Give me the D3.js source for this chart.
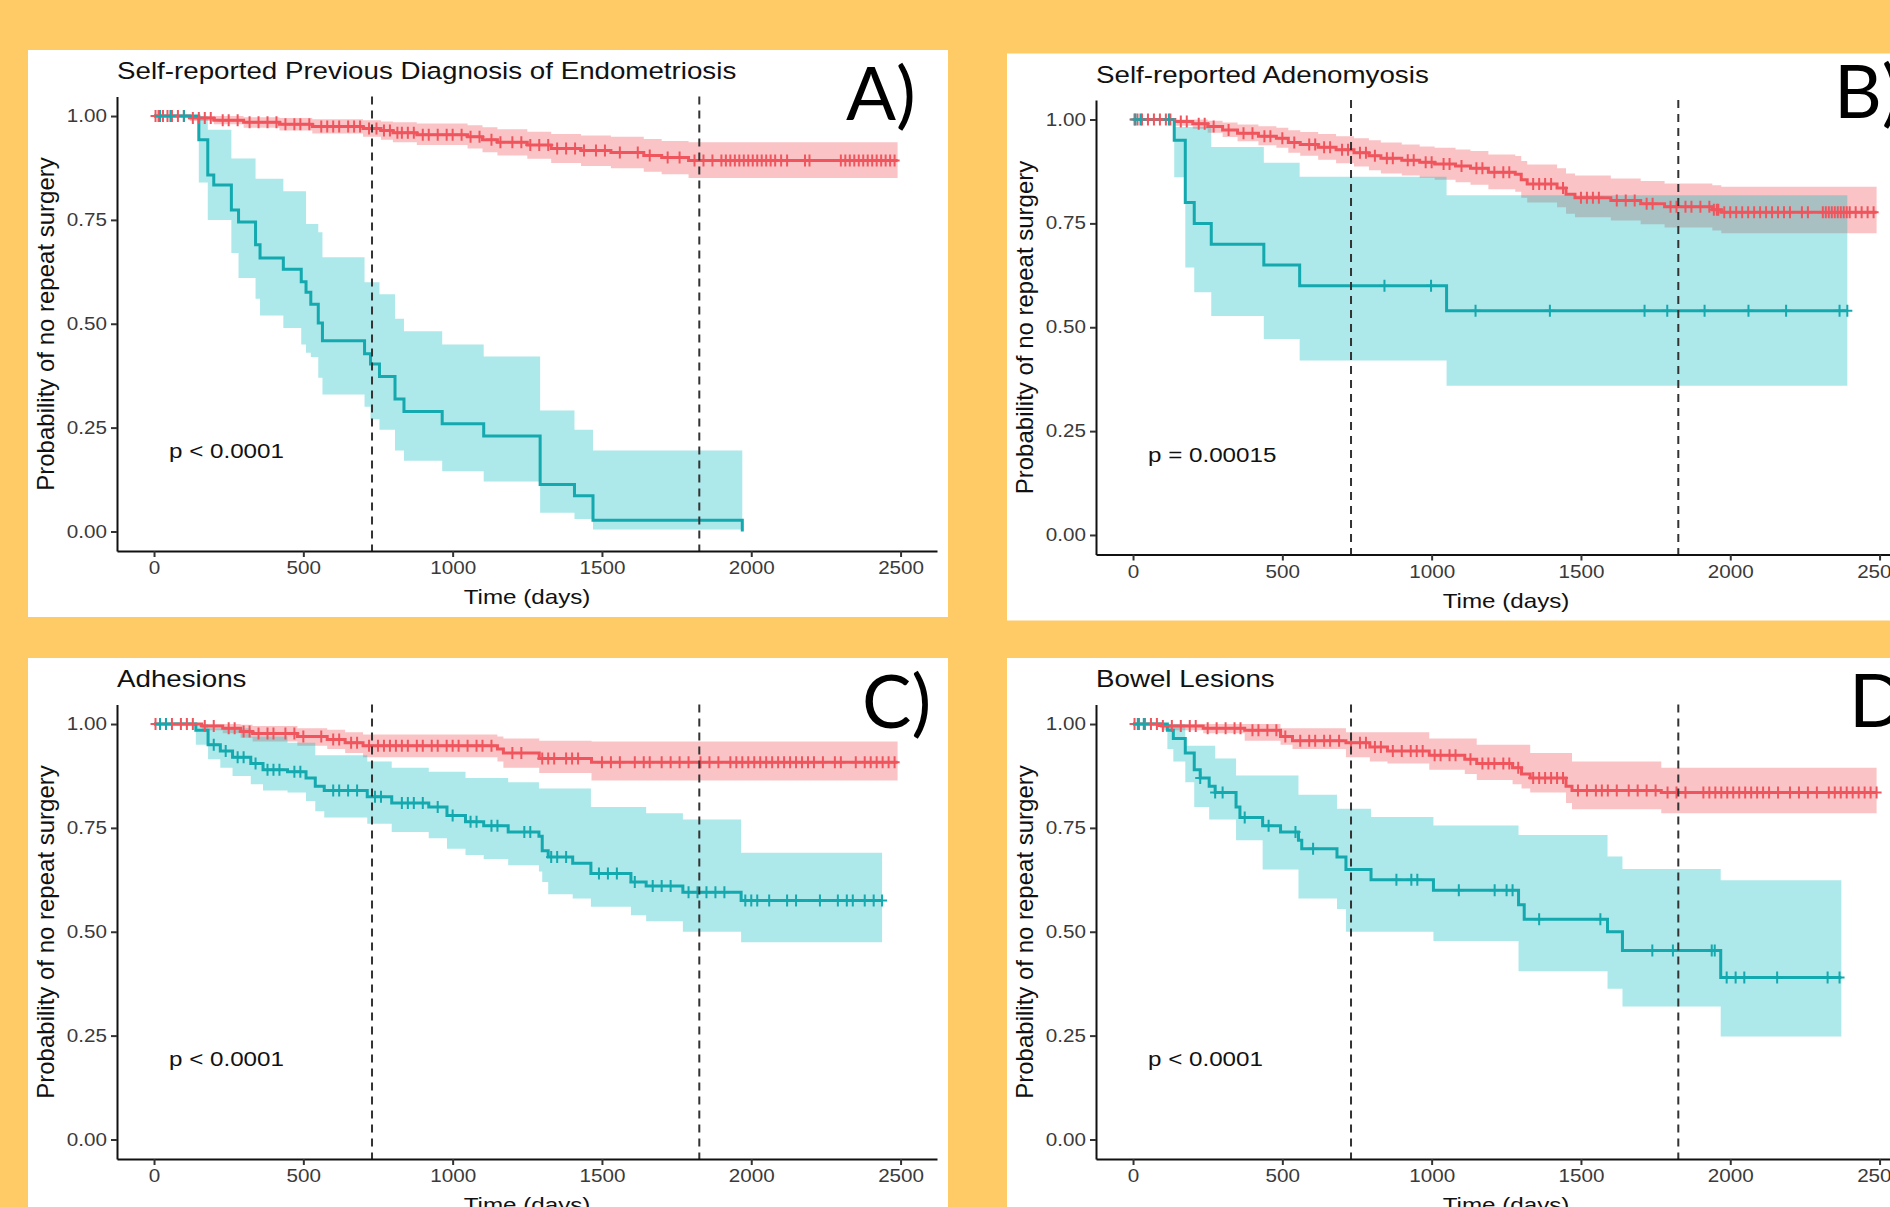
<!DOCTYPE html>
<html>
<head>
<meta charset="utf-8">
<script src="https://cdn.jsdelivr.net/npm/d3@7"></script>
<style>
  html, body { margin: 0; padding: 0; background: #fecb67; }
  svg { display: block; }
</style>
</head>
<body>
<svg id="chart" width="1890" height="1207"></svg>
<script>
// ---------- data ----------
// A) Self-reported previous diagnosis of endometriosis
var endoNoTime  = [0, 120, 200, 300, 420, 530, 700, 760, 800, 880, 1050, 1100, 1150, 1250, 1330, 1430, 1530, 1640, 1700, 1790];
var endoNoSurv  = [1, 0.995, 0.99, 0.985, 0.98, 0.975, 0.97, 0.965, 0.96, 0.955, 0.95, 0.943, 0.937, 0.93, 0.922, 0.917, 0.912, 0.905, 0.9, 0.893];
var endoNoUpper = [1, 1, 1, 0.997, 0.995, 0.992, 0.99, 0.987, 0.985, 0.982, 0.978, 0.973, 0.968, 0.962, 0.957, 0.953, 0.95, 0.945, 0.94, 0.937];
var endoNoLower = [1, 0.988, 0.98, 0.972, 0.965, 0.958, 0.95, 0.943, 0.937, 0.93, 0.922, 0.913, 0.905, 0.897, 0.887, 0.88, 0.874, 0.866, 0.86, 0.851];
var endoNoEnd = 2490;
var endoNoCensor = [5, 15, 30, 45, 60, 80, 100, 130, 150, 170, 190, 230, 250, 280, 320, 350, 380, 410, 440, 470, 490, 520, 560, 580, 600, 620, 650, 670, 690, 720, 745, 770, 790, 815, 830, 850, 870, 900, 920, 950, 980, 1000, 1030, 1060, 1090, 1130, 1160, 1200, 1230, 1260, 1290, 1320, 1350, 1380, 1410, 1440, 1480, 1510, 1560, 1620, 1660, 1720, 1760, 1810, 1840, 1870, 1900, 1915, 1930, 1945, 1960, 1975, 1990, 2005, 2020, 2035, 2050, 2065, 2080, 2100, 2120, 2180, 2195, 2300, 2315, 2330, 2345, 2360, 2375, 2390, 2405, 2420, 2435, 2450, 2465, 2480];

var endoYesTime  = [0, 150, 180, 200, 259, 283, 340, 355, 433, 493, 509, 525, 550, 564, 705, 725, 755, 807, 837, 965, 1104, 1293, 1408, 1470, 1970];
var endoYesSurv  = [1, 0.943, 0.858, 0.834, 0.774, 0.745, 0.69, 0.658, 0.631, 0.601, 0.576, 0.547, 0.502, 0.459, 0.428, 0.403, 0.373, 0.319, 0.289, 0.259, 0.23, 0.113, 0.086, 0.027, 0];
var endoYesUpper = [1, 1, 0.967, 0.967, 0.898, 0.898, 0.849, 0.849, 0.819, 0.819, 0.74, 0.74, 0.72, 0.66, 0.6, 0.6, 0.571, 0.512, 0.482, 0.45, 0.421, 0.291, 0.245, 0.195, 0.195];
var endoYesLower = [1, 0.84, 0.75, 0.75, 0.67, 0.61, 0.56, 0.52, 0.49, 0.45, 0.43, 0.42, 0.37, 0.33, 0.3, 0.27, 0.245, 0.195, 0.17, 0.145, 0.12, 0.045, 0.03, 0.005, 0.005];
var endoYesEnd = 1970;
var endoYesCensor = [20, 55, 100];

// B) Self-reported adenomyosis
var adenoNoTime  = [0, 140, 200, 250, 300, 350, 420, 480, 520, 560, 620, 680, 740, 790, 830, 900, 960, 1010, 1080, 1130, 1190, 1280, 1300, 1320, 1420, 1450, 1480, 1600, 1700, 1780, 1940, 1970];
var adenoNoSurv  = [1, 0.995, 0.99, 0.983, 0.975, 0.967, 0.96, 0.955, 0.945, 0.94, 0.933, 0.927, 0.92, 0.913, 0.907, 0.902, 0.897, 0.893, 0.888, 0.883, 0.873, 0.868, 0.855, 0.845, 0.835, 0.82, 0.812, 0.805, 0.797, 0.79, 0.783, 0.777];
var adenoNoUpper = [1, 1, 1, 0.997, 0.993, 0.988, 0.984, 0.98, 0.974, 0.97, 0.965, 0.96, 0.955, 0.95, 0.945, 0.94, 0.935, 0.932, 0.928, 0.924, 0.916, 0.912, 0.9, 0.892, 0.883, 0.87, 0.865, 0.858, 0.852, 0.846, 0.842, 0.838];
var adenoNoLower = [1, 0.985, 0.978, 0.968, 0.958, 0.948, 0.938, 0.932, 0.92, 0.913, 0.903, 0.895, 0.887, 0.878, 0.87, 0.865, 0.86, 0.855, 0.849, 0.843, 0.832, 0.826, 0.812, 0.8, 0.789, 0.773, 0.765, 0.757, 0.748, 0.74, 0.733, 0.726];
var adenoNoEnd = 2490;
var adenoNoCensor = [5, 15, 30, 50, 70, 90, 110, 125, 160, 180, 220, 240, 270, 320, 370, 400, 440, 460, 500, 540, 590, 610, 640, 660, 700, 720, 760, 780, 810, 850, 870, 920, 940, 980, 1000, 1040, 1060, 1100, 1150, 1170, 1210, 1240, 1260, 1340, 1360, 1380, 1400, 1440, 1500, 1520, 1540, 1560, 1620, 1650, 1680, 1720, 1740, 1800, 1820, 1850, 1870, 1900, 1930, 1945, 1955, 1960, 1980, 2000, 2020, 2040, 2060, 2080, 2100, 2120, 2140, 2160, 2180, 2200, 2240, 2260, 2310, 2320, 2330, 2340, 2350, 2360, 2370, 2380, 2390, 2400, 2420, 2440, 2460, 2480];

var adenoYesTime  = [0, 138, 175, 205, 262, 438, 558, 1050];
var adenoYesSurv  = [1, 0.95, 0.8, 0.75, 0.7, 0.65, 0.6, 0.54];
var adenoYesUpper = [1, 0.982, 0.982, 0.982, 0.934, 0.896, 0.862, 0.818];
var adenoYesLower = [1, 0.861, 0.644, 0.584, 0.527, 0.472, 0.42, 0.359];
var adenoYesEnd = 2392;
var adenoYesCensor = [8, 25, 120, 842, 998, 1147, 1396, 1713, 1789, 1914, 2061, 2187, 2366, 2392];

// C) Adhesions
var adhNoTime  = [0, 160, 230, 290, 330, 480, 580, 640, 700, 1150, 1170, 1290, 1465];
var adhNoSurv  = [1, 0.995, 0.99, 0.982, 0.977, 0.97, 0.963, 0.955, 0.948, 0.94, 0.93, 0.917, 0.908];
var adhNoUpper = [1, 1, 1, 0.998, 0.995, 0.99, 0.986, 0.98, 0.975, 0.97, 0.965, 0.96, 0.958];
var adhNoLower = [1, 0.985, 0.978, 0.967, 0.958, 0.948, 0.94, 0.93, 0.92, 0.91, 0.895, 0.882, 0.864];
var adhNoEnd = 2490;
var adhNoCensor = [5, 20, 40, 60, 90, 110, 130, 170, 200, 250, 270, 300, 320, 350, 380, 400, 440, 470, 500, 560, 600, 620, 660, 680, 720, 750, 770, 790, 810, 830, 850, 880, 900, 930, 950, 980, 1000, 1020, 1050, 1080, 1100, 1130, 1200, 1230, 1300, 1320, 1340, 1380, 1400, 1420, 1500, 1530, 1560, 1610, 1640, 1660, 1700, 1730, 1760, 1790, 1830, 1860, 1890, 1930, 1950, 1970, 1990, 2010, 2030, 2050, 2070, 2090, 2110, 2130, 2150, 2170, 2190, 2210, 2240, 2280, 2300, 2350, 2380, 2400, 2420, 2440, 2460, 2480];

var adhYesTime  = [0, 140, 181, 222, 263, 324, 365, 447, 509, 540, 570, 714, 796, 920, 981, 1043, 1104, 1186, 1289, 1300, 1320, 1402, 1463, 1597, 1648, 1771, 1966];
var adhYesSurv  = [1, 0.985, 0.95, 0.935, 0.92, 0.905, 0.89, 0.885, 0.87, 0.85, 0.84, 0.825, 0.81, 0.8, 0.78, 0.765, 0.755, 0.74, 0.73, 0.695, 0.68, 0.665, 0.64, 0.62, 0.61, 0.595, 0.575];
var adhYesUpper = [1, 1, 0.99, 0.99, 0.99, 0.97, 0.97, 0.955, 0.955, 0.925, 0.925, 0.91, 0.895, 0.885, 0.885, 0.87, 0.87, 0.86, 0.845, 0.845, 0.845, 0.845, 0.8, 0.8, 0.785, 0.77, 0.69];
var adhYesLower = [1, 0.95, 0.915, 0.895, 0.875, 0.855, 0.84, 0.835, 0.815, 0.79, 0.775, 0.76, 0.74, 0.725, 0.7, 0.685, 0.675, 0.66, 0.645, 0.62, 0.59, 0.58, 0.56, 0.54, 0.525, 0.5, 0.475];
var adhYesEnd = 2438;
var adhYesCensor = [20, 40, 200, 240, 280, 300, 340, 380, 400, 420, 470, 490, 600, 620, 650, 680, 740, 760, 830, 850, 870, 900, 950, 1000, 1060, 1080, 1130, 1150, 1240, 1260, 1330, 1350, 1380, 1490, 1520, 1550, 1610, 1670, 1700, 1730, 1790, 1820, 1850, 1880, 1910, 1980, 2000, 2020, 2060, 2120, 2150, 2230, 2290, 2320, 2340, 2380, 2410, 2438];

// D) Bowel lesions
var bowelNoTime  = [0, 96, 235, 374, 494, 534, 713, 793, 852, 992, 1111, 1151, 1271, 1301, 1330, 1450, 1470, 1769];
var bowelNoSurv  = [1, 0.995, 0.99, 0.985, 0.97, 0.96, 0.955, 0.945, 0.935, 0.925, 0.915, 0.905, 0.895, 0.88, 0.87, 0.85, 0.84, 0.835];
var bowelNoUpper = [1, 1, 1, 1, 0.99, 0.99, 0.98, 0.98, 0.98, 0.965, 0.965, 0.95, 0.95, 0.95, 0.93, 0.93, 0.91, 0.895];
var bowelNoLower = [1, 0.985, 0.978, 0.96, 0.95, 0.94, 0.92, 0.91, 0.905, 0.89, 0.88, 0.865, 0.855, 0.845, 0.835, 0.81, 0.795, 0.785];
var bowelNoEnd = 2490;
var bowelNoCensor = [5, 20, 40, 60, 80, 100, 130, 160, 190, 210, 250, 280, 310, 340, 360, 400, 420, 450, 480, 510, 560, 590, 610, 640, 660, 690, 730, 760, 780, 810, 830, 870, 900, 930, 950, 970, 1010, 1030, 1060, 1080, 1130, 1170, 1190, 1210, 1240, 1260, 1290, 1340, 1360, 1380, 1400, 1420, 1440, 1490, 1520, 1550, 1570, 1590, 1620, 1660, 1690, 1720, 1750, 1790, 1820, 1850, 1910, 1930, 1950, 1970, 1990, 2010, 2030, 2050, 2070, 2090, 2110, 2130, 2160, 2200, 2230, 2260, 2290, 2330, 2350, 2370, 2390, 2410, 2430, 2450, 2470, 2490];

var bowelYesTime  = [0, 115, 135, 175, 205, 225, 255, 275, 345, 358, 434, 494, 554, 565, 683, 713, 797, 1006, 1291, 1310, 1589, 1639, 1968];
var bowelYesSurv  = [1, 0.985, 0.965, 0.93, 0.89, 0.87, 0.85, 0.835, 0.8, 0.775, 0.755, 0.74, 0.72, 0.7, 0.68, 0.65, 0.625, 0.6, 0.565, 0.53, 0.5, 0.455, 0.39];
var bowelYesUpper = [1, 1, 1, 0.948, 0.948, 0.948, 0.948, 0.917, 0.876, 0.876, 0.876, 0.876, 0.83, 0.83, 0.796, 0.796, 0.776, 0.756, 0.733, 0.733, 0.681, 0.651, 0.624];
var bowelYesLower = [1, 0.94, 0.91, 0.86, 0.8, 0.8, 0.77, 0.77, 0.72, 0.72, 0.65, 0.65, 0.58, 0.58, 0.555, 0.5, 0.5, 0.478, 0.405, 0.405, 0.363, 0.32, 0.248];
var bowelYesEnd = 2372;
var bowelYesCensor = [16, 36, 225, 275, 300, 374, 454, 544, 603, 882, 932, 952, 1091, 1211, 1251, 1271, 1360, 1565, 1739, 1808, 1938, 1948, 1988, 2018, 2047, 2157, 2326, 2366];

var xTicks = [0, 500, 1000, 1500, 2000, 2500];
var yTicks = [0, 0.25, 0.5, 0.75, 1];
var refDays = [730, 1826];   // 2 and 5 years

var titles = ["Self-reported Previous Diagnosis of Endometriosis", "Self-reported Adenomyosis", "Adhesions", "Bowel Lesions"];
var tags = ["A)", "B)", "C)", "D)"];
var pvals = ["p < 0.0001", "p = 0.00015", "p < 0.0001", "p < 0.0001"];

// ---------- drawing ----------
var RED = "#f0555d", TEAL = "#13a9ae";
var SX = 1.18;   // the source figure's horizontal text is a little stretched
var FONT = "'Liberation Sans', Arial, Helvetica, sans-serif";

function curve(time, surv, upper, lower, end, censor, color, band, bandOpacity) {
  return {time: time, surv: surv, upper: upper, lower: lower, end: end, censor: censor,
          color: color, band: band, bandOpacity: bandOpacity};
}

var panels = [
  {dx: 0,   dy: 0,   tagX: 846, tagY: 120, curves: [
    curve(endoNoTime, endoNoSurv, endoNoUpper, endoNoLower, endoNoEnd, endoNoCensor, RED, RED, 0.35),
    curve(endoYesTime, endoYesSurv, endoYesUpper, endoYesLower, endoYesEnd, endoYesCensor, TEAL, "#00b8be", 0.32)]},
  {dx: 979, dy: 3.5, tagX: 855, tagY: 114, curves: [
    curve(adenoNoTime, adenoNoSurv, adenoNoUpper, adenoNoLower, adenoNoEnd, adenoNoCensor, RED, RED, 0.35),
    curve(adenoYesTime, adenoYesSurv, adenoYesUpper, adenoYesLower, adenoYesEnd, adenoYesCensor, TEAL, "#00b8be", 0.32)]},
  {dx: 0,   dy: 608, tagX: 862, tagY: 120, curves: [
    curve(adhNoTime, adhNoSurv, adhNoUpper, adhNoLower, adhNoEnd, adhNoCensor, RED, RED, 0.35),
    curve(adhYesTime, adhYesSurv, adhYesUpper, adhYesLower, adhYesEnd, adhYesCensor, TEAL, "#00b8be", 0.32)]},
  {dx: 979, dy: 608, tagX: 870, tagY: 119, curves: [
    curve(bowelNoTime, bowelNoSurv, bowelNoUpper, bowelNoLower, bowelNoEnd, bowelNoCensor, RED, RED, 0.35),
    curve(bowelYesTime, bowelYesSurv, bowelYesUpper, bowelYesLower, bowelYesEnd, bowelYesCensor, TEAL, "#00b8be", 0.32)]}
];

var svg = d3.select("#chart");

function stretchText(g, x, y, str, size, anchor) {
  return g.append("text")
    .attr("transform", "translate(" + x + "," + y + ") scale(" + SX + ",1)")
    .attr("font-family", FONT)
    .attr("font-size", size)
    .attr("text-anchor", anchor || "start")
    .attr("fill", "#111")
    .text(str);
}

function survAt(c, t) {
  var i = d3.bisectRight(c.time, t) - 1;
  return c.surv[Math.max(i, 0)];
}

panels.forEach(function(p, k) {
  var g = svg.append("g").attr("transform", "translate(" + p.dx + "," + p.dy + ")");

  g.append("rect").attr("x", 28).attr("y", 50).attr("width", 920).attr("height", 567).attr("fill", "#fff");

  var x = d3.scaleLinear().domain([-124, 2622]).range([117, 937]);
  var y = d3.scaleLinear().domain([-0.047, 1.047]).range([551, 96.5]);

  var steps = p.curves.map(function(c) {
    var pts = c.time.map(function(t, i) { return {t: t, s: c.surv[i], hi: c.upper[i], lo: c.lower[i]}; });
    var last = pts[pts.length - 1];
    pts.push({t: c.end, s: last.s, hi: last.hi, lo: last.lo});
    return pts;
  });

  // confidence bands
  var area = d3.area().curve(d3.curveStepAfter)
    .x(function(d) { return x(d.t); })
    .y0(function(d) { return y(d.lo); })
    .y1(function(d) { return y(d.hi); });
  p.curves.forEach(function(c, i) {
    g.append("path").datum(steps[i]).attr("d", area)
      .attr("fill", c.band).attr("fill-opacity", c.bandOpacity);
  });

  // survival curves
  var line = d3.line().curve(d3.curveStepAfter)
    .x(function(d) { return x(d.t); })
    .y(function(d) { return y(d.s); });
  p.curves.forEach(function(c, i) {
    g.append("path").datum(steps[i]).attr("d", line)
      .attr("fill", "none").attr("stroke", c.color).attr("stroke-width", 3);
  });

  // censor marks
  p.curves.forEach(function(c) {
    g.append("g").selectAll("path").data(c.censor).join("path")
      .attr("transform", function(t) { return "translate(" + x(t) + "," + y(survAt(c, t)) + ")"; })
      .attr("d", "M-5,0H5M0,-6V6")
      .attr("stroke", c.color).attr("stroke-width", 2).attr("fill", "none");
  });

  // reference lines at 2 and 5 years
  g.selectAll("line.ref").data(refDays).join("line").attr("class", "ref")
    .attr("x1", function(d) { return x(d); }).attr("x2", function(d) { return x(d); })
    .attr("y1", 96.5).attr("y2", 551)
    .attr("stroke", "#333").attr("stroke-width", 2).attr("stroke-dasharray", "8,6");

  // axes
  var gx = g.append("g").attr("transform", "translate(0,551)")
    .call(d3.axisBottom(x).tickValues(xTicks).tickFormat(d3.format("d")).tickSize(6).tickPadding(5).tickSizeOuter(0));
  var gy = g.append("g").attr("transform", "translate(117,0)")
    .call(d3.axisLeft(y).tickValues(yTicks).tickFormat(d3.format(".2f")).tickSize(6).tickPadding(4).tickSizeOuter(0));
  [gx, gy].forEach(function(a) {
    a.attr("font-family", FONT).attr("font-size", 17.5);
    a.select(".domain").attr("stroke", "#111").attr("stroke-width", 2);
    a.selectAll(".tick line").attr("stroke", "#333").attr("stroke-width", 2);
    a.selectAll(".tick text").attr("fill", "#3a3a3a").each(function() {
      var t = d3.select(this);
      var x0 = +t.attr("x") || 0;
      t.attr("x", 0).attr("transform", "translate(" + x0 + ",0) scale(" + SX + ",1)");
    });
  });

  // texts
  stretchText(g, 117, 79, titles[k], 23.5);
  stretchText(g, 527, 604, "Time (days)", 20.5, "middle");
  stretchText(g, 169, 458, pvals[k], 20.5);
  g.append("text")
    .attr("transform", "translate(54,324) rotate(-90)")
    .attr("font-family", FONT).attr("font-size", 24).attr("text-anchor", "middle")
    .attr("fill", "#111").text("Probability of no repeat surgery");

  g.append("text").attr("x", p.tagX).attr("y", p.tagY)
    .attr("font-family", "Lato, 'Open Sans', sans-serif").attr("font-size", 74)
    .attr("fill", "#000").text(tags[k]);
});
</script>
</body>
</html>
